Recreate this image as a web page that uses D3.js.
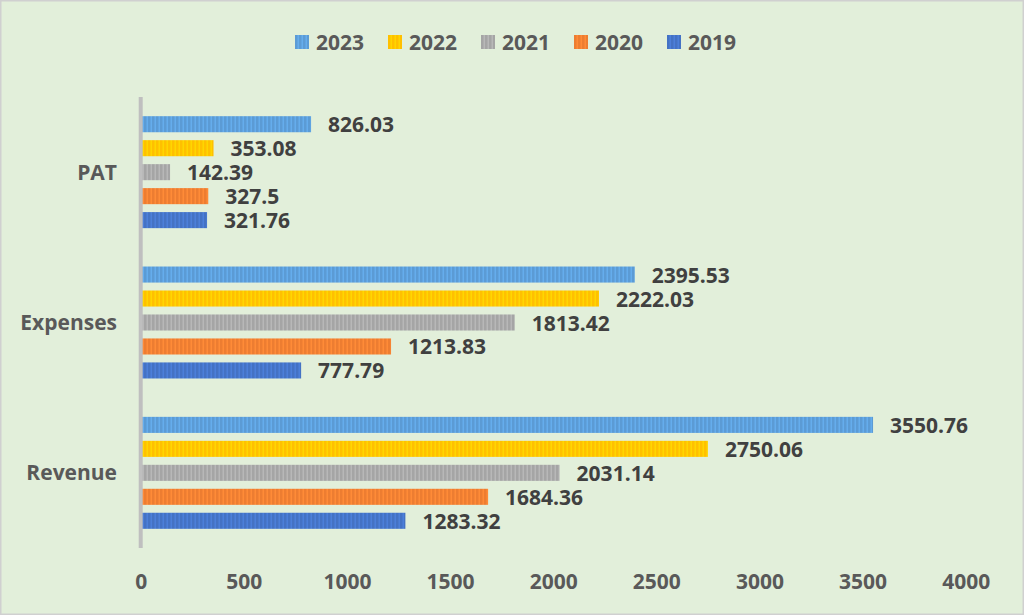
<!DOCTYPE html>
<html><head><meta charset="utf-8">
<script src="https://cdn.jsdelivr.net/npm/d3@7"></script>
<style>
html,body{margin:0;padding:0;background:#e2efda;}
svg{display:block;}
</style></head>
<body>
<svg id="chart" width="1024" height="615"></svg>
<script>
const categories = ["PAT", "Expenses", "Revenue"];
const years = ["2023", "2022", "2021", "2020", "2019"];
const values2023 = [826.03, 2395.53, 3550.76];
const values2022 = [353.08, 2222.03, 2750.06];
const values2021 = [142.39, 1813.42, 2031.14];
const values2020 = [327.5, 1213.83, 1684.36];
const values2019 = [321.76, 777.79, 1283.32];
const xTicks = [0, 500, 1000, 1500, 2000, 2500, 3000, 3500, 4000];
const colors = ["#5b9bd5", "#ffc000", "#a5a5a5", "#ed7d31", "#4472c4"];

const seriesValues = [values2023, values2022, values2021, values2020, values2019];
const rows = [];
categories.forEach((c, ci) => {
  years.forEach((y, yi) => rows.push({cat: c, year: y, yi, value: seriesValues[yi][ci]}));
});

const svg = d3.select("#chart");
const W = 1024, H = 615;
svg.append("rect").attr("x", 0.75).attr("y", 0.75).attr("width", W - 1.5).attr("height", H - 1.5)
  .attr("fill", "#e2efda").attr("stroke", "#d0d0d0").attr("stroke-width", 1.5);

const FONT = "'Open Sans', Lato, sans-serif";
const FS = "21px";
const defs = svg.append("defs");
colors.forEach((col, i) => {
  const p = defs.append("pattern").attr("id", "pat" + i).attr("patternUnits", "userSpaceOnUse")
    .attr("width", 4).attr("height", 10);
  p.append("rect").attr("width", 4).attr("height", 10).attr("fill", col);
  p.append("rect").attr("x", 2.5).attr("width", 1.5).attr("height", 10)
    .attr("fill", d3.color(col).brighter(0.3));
});

const x = d3.scaleLinear().domain([0, 4000]).range([140.7, 965.7]);
const y0 = d3.scaleBand().domain(categories).range([97, 548]);
const y1 = d3.scaleBand().domain(years).range([0, y0.bandwidth()]).paddingInner(0.33).paddingOuter(0.8);

// bars
svg.append("g").selectAll("rect").data(rows).join("rect")
  .attr("x", x(0))
  .attr("y", d => y0(d.cat) + y1(d.year))
  .attr("width", d => x(d.value) - x(0))
  .attr("height", y1.bandwidth())
  .attr("fill", d => `url(#pat${d.yi})`);

// data labels
svg.append("g").selectAll("text").data(rows).join("text")
  .attr("x", d => x(d.value) + 17)
  .attr("y", d => y0(d.cat) + y1(d.year) + y1.bandwidth() / 2 + 8)
  .attr("font-family", FONT).attr("font-weight", "bold").attr("font-size", FS)
  .attr("fill", "#404040")
  .text(d => d.value);

// axis line
svg.append("line").attr("x1", x(0)).attr("x2", x(0)).attr("y1", 97).attr("y2", 548)
  .attr("stroke", "#bfbfbf").attr("stroke-width", 4);

// x axis ticks
const xAxis = svg.append("g").attr("transform", "translate(0,567)")
  .call(d3.axisBottom(x).tickValues(xTicks).tickSize(0).tickPadding(0).tickFormat(d3.format("d")));
xAxis.select(".domain").remove();
xAxis.selectAll("text").attr("font-family", FONT).attr("font-weight", "bold").attr("font-size", FS)
  .attr("fill", "#595959").attr("dy", "0").attr("y", 22);

// y axis labels
const yAxis = svg.append("g").attr("transform", "translate(117,0)")
  .call(d3.axisLeft(y0).tickSize(0).tickPadding(0));
yAxis.select(".domain").remove();
yAxis.selectAll("text").attr("font-family", FONT).attr("font-weight", "bold").attr("font-size", FS)
  .attr("fill", "#595959").attr("dy", "0.36em");

// legend
const legendX = [295, 388, 481, 574, 667];
const lg = svg.append("g").selectAll("g").data(years).join("g")
  .attr("transform", (d, i) => `translate(${legendX[i]},35)`);
lg.append("rect").attr("width", 14).attr("height", 14).attr("fill", (d, i) => `url(#pat${i})`);
lg.append("text").attr("x", 21).attr("y", 15).attr("font-family", FONT).attr("font-weight", "bold")
  .attr("font-size", FS).attr("fill", "#595959").text(d => d);
</script>
</body></html>
